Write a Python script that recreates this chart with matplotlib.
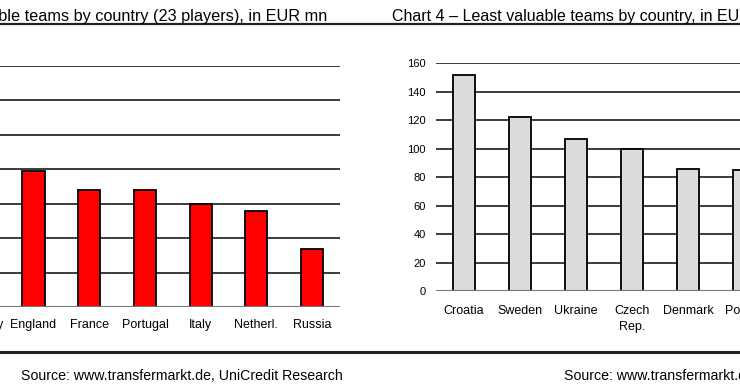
import numpy as np
import matplotlib
matplotlib.use('Agg')
from matplotlib import pyplot as plt

plt.rcParams['font.family'] = ['Liberation Sans', 'DejaVu Sans']

# chart 3 - most valuable teams (EUR mn); Spain and Germany sit off the crop
most_countries = ['Spain', 'Germany', 'England', 'France', 'Portugal', 'Italy', 'Netherl.', 'Russia']
most_values = [650, 460, 395, 340, 340, 300, 277, 167]
most_ticks = [0, 100, 200, 300, 400, 500, 600, 700]

# chart 4 - least valuable teams (EUR mn); Greece and Ireland sit off the crop
least_countries = ['Croatia', 'Sweden', 'Ukraine', 'Czech\nRep.', 'Denmark', 'Poland', 'Greece', 'Ireland']
least_values = [152, 122, 107, 100, 86, 85, 80, 55]
least_ticks = [0, 20, 40, 60, 80, 100, 120, 140, 160]

title_left = 'Chart 3 \u2013 Most valuable teams by country (23 players), in EUR mn'
title_right = 'Chart 4 \u2013 Least valuable teams by country, in EUR mn'
source_left = 'Source: www.transfermarkt.de, UniCredit Research'
source_right = 'Source: www.transfermarkt.de, UniCredit Research'

W, H = 740, 389
fig = plt.figure(figsize=(W/100, H/100), dpi=100)


def px_axes(x0, x1, ytop, ybot):
    # pixel box (origin top-left) -> figure fraction axes
    return fig.add_axes([x0/W, (H - ybot)/H, (x1 - x0)/W, (ybot - ytop)/H])


def style_bars(ax, names, vals, ticks, color, pad):
    x = np.arange(len(names))
    ax.bar(x, vals, width=0.4, color=color, edgecolor='black', linewidth=1.3, zorder=3)
    ax.set_xlim(-0.5, len(names) - 0.5)
    ax.set_ylim(ticks[0], ticks[-1])
    ax.set_yticks(ticks)
    for t in ticks[1:]:
        ax.axhline(t, color='#1a1a1a', lw=1.2, zorder=1)
    ax.axhline(0, color='#777777', lw=1.5, zorder=4)
    ax.set_xticks(x)
    ax.set_xticklabels(names, fontsize=9, linespacing=1.45)
    ax.tick_params(axis='x', length=0, pad=pad)
    ax.tick_params(axis='y', length=0, pad=7.4, labelsize=8)
    for s in ax.spines.values():
        s.set_visible(False)
    ax.patch.set_alpha(0)


# left panel (cropped on the left side, its value axis is off the picture)
ax1 = px_axes(-105.7, 339.9, 65.5, 307)
style_bars(ax1, most_countries, most_values, most_ticks, '#ff0000', 8.5)
ax1.tick_params(axis='y', labelleft=False)

# right panel (cropped on the right side)
ax2 = px_axes(435.8, 435.8 + 8*56.05, 63.3, 291)
style_bars(ax2, least_countries, least_values, least_ticks, '#dcdcda', 10)

# rules under titles and above sources
fig.add_artist(plt.Line2D([0, 1], [(H - 24)/H]*2, color='#222222', lw=1.6))
fig.add_artist(plt.Line2D([0, 1], [(H - 352)/H]*2, color='#222222', lw=2.2))

fig.text(327/W, (H - 16)/H, title_left, ha='right', va='center', fontsize=11.7)
fig.text(391.7/W, (H - 16)/H, title_right, ha='left', va='center', fontsize=11.5)
fig.text(21/W, (H - 375.5)/H, source_left, ha='left', va='center', fontsize=10.2)
fig.text(564/W, (H - 375.5)/H, source_right, ha='left', va='center', fontsize=10.2)

fig.savefig('out.png', dpi=100, facecolor='white')
